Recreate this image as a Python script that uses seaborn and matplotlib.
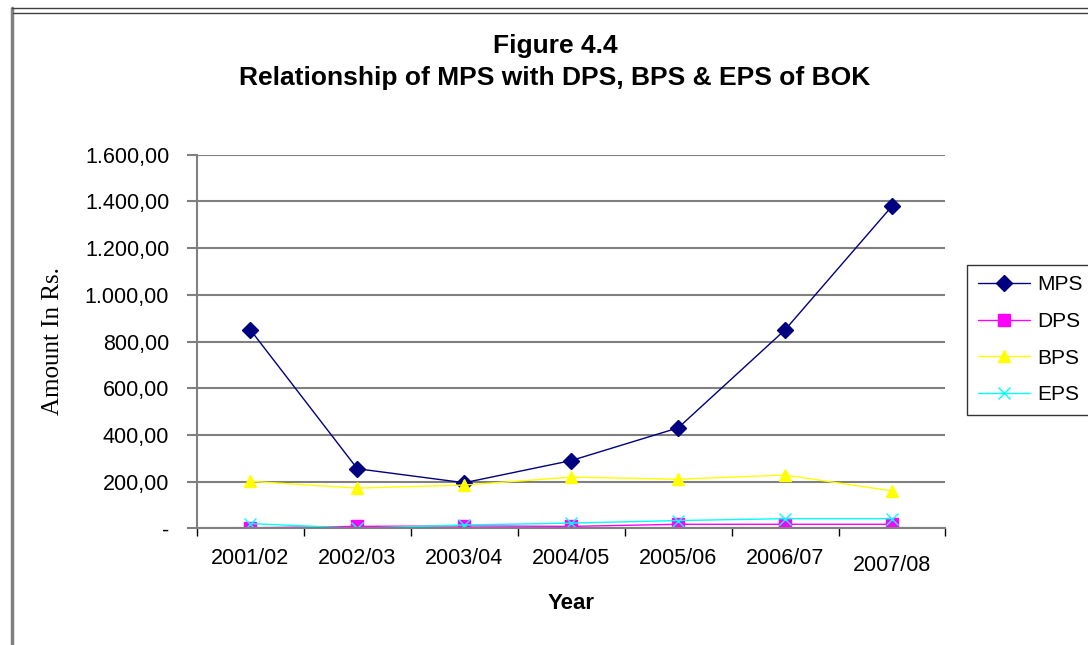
import matplotlib
matplotlib.use("Agg")
import matplotlib.pyplot as plt
import matplotlib.ticker as mticker
from matplotlib.lines import Line2D
import seaborn as sns
import pandas as pd

# data
years = ["2001/02", "2002/03", "2003/04", "2004/05", "2005/06", "2006/07", "2007/08"]
mps = [850, 255, 195, 290, 430, 850, 1380]
dps = [2, 8, 10, 8, 17, 17, 17]
bps = [201, 172, 185, 219, 210, 228, 160]
eps = [20, 0, 14, 22, 33, 41, 41]

series = {"MPS": mps, "DPS": dps, "BPS": bps, "EPS": eps}
cores = {"MPS": "#000080", "DPS": "#FF00FF", "BPS": "#FFFF00", "EPS": "#00FFFF"}
marcadores = {"MPS": "D", "DPS": "s", "BPS": "^", "EPS": "x"}

sns.set_style("white")
plt.rcParams["font.family"] = ["Liberation Sans", "DejaVu Sans"]
plt.rcParams["text.color"] = "black"
plt.rcParams["axes.labelcolor"] = "black"
plt.rcParams["xtick.color"] = "black"
plt.rcParams["ytick.color"] = "black"

fig = plt.figure(figsize=(10.88, 6.45), dpi=100)
ax = fig.add_axes([0.181, 0.181, 0.688, 0.579])

for nome, valores in series.items():
    d = pd.DataFrame({"Year": years, "Valor": valores})
    sns.lineplot(data=d, x="Year", y="Valor", color=cores[nome], marker=marcadores[nome],
                 lw=1, markersize=8, markeredgewidth=1, markerfacecolor=cores[nome],
                 markeredgecolor=cores[nome], sort=False, ax=ax, label=nome, legend=False)

ax.set_xlim(-0.5, len(years) - 0.5)
ax.set_ylim(0, 1600)
ax.yaxis.set_major_locator(mticker.MultipleLocator(200))


def fmt(v, pos):
    if v == 0:
        return "-"
    s = f"{v:,.2f}"
    return s.replace(",", "X").replace(".", ",").replace("X", ".")


ax.yaxis.set_major_formatter(mticker.FuncFormatter(fmt))
ax.grid(True, axis="y", color="#808080", lw=1.5)
ax.set_axisbelow(True)
for s in ["top", "right"]:
    ax.spines[s].set_visible(False)
for s in ["left", "bottom"]:
    ax.spines[s].set_color("#808080")
    ax.spines[s].set_linewidth(1.5)

ax.set_xticks(range(len(years)))
ax.set_xticklabels(years)
ax.set_xticks([i + 0.5 for i in range(-1, len(years))], minor=True)
ax.tick_params(axis="x", which="major", length=0, pad=14, labelsize=15.5)
ax.tick_params(axis="x", which="minor", length=6, color="#000000", width=1, direction="out", bottom=True)
ax.tick_params(axis="y", length=7, color="#808080", width=1.5, left=True, pad=13, labelsize=15.5,
               labelcolor="black")
ax.get_xticklabels()[-1].set_y(-0.02)

ax.set_xlabel("Year", fontsize=16, fontweight="bold", labelpad=12)
ax.set_ylabel("Amount In Rs.", fontsize=18, family=["Liberation Serif", "DejaVu Serif"], labelpad=15)

fig.text(0.51, 0.929, "Figure 4.4", ha="center", va="center", fontsize=19, fontweight="bold")
fig.text(0.51, 0.879, "Relationship of MPS with DPS, BPS & EPS of BOK", ha="center", va="center",
         fontsize=19, fontweight="bold")

handles = [Line2D([], [], color=cores[k], marker=marcadores[k], lw=1, markersize=8,
                  markerfacecolor=cores[k], markeredgecolor=cores[k]) for k in series]
leg = fig.legend(handles, list(series), loc="center left", bbox_to_anchor=(0.889, 0.473),
                 frameon=True, fancybox=False, fontsize=15, handlelength=2.5,
                 labelspacing=0.85, borderpad=0.5, handletextpad=0.35, borderaxespad=0)
leg.get_frame().set_edgecolor("black")
leg.get_frame().set_linewidth(1)

# moldura externa
W, H = 1088, 645
fig.add_artist(Line2D([12 / W, 12 / W], [1 - 8 / H, 0], color="#808080", lw=2.5, transform=fig.transFigure))
fig.add_artist(Line2D([12 / W, 1], [1 - 8 / H, 1 - 8 / H], color="#404040", lw=1, transform=fig.transFigure))
fig.add_artist(Line2D([13 / W, 1], [1 - 13 / H, 1 - 13 / H], color="#404040", lw=1, transform=fig.transFigure))

fig.savefig("out.png", dpi=100)
